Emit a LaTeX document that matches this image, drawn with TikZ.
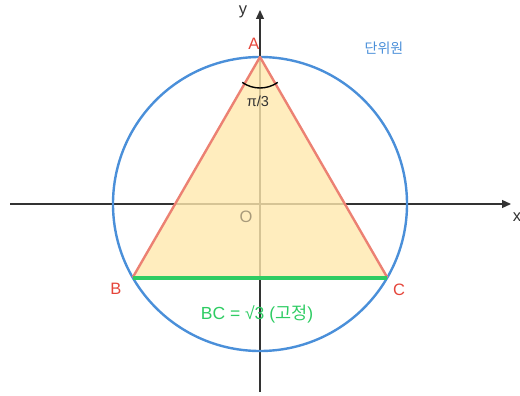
\documentclass[tikz,border=0pt]{standalone}
\usepackage{fontspec}
\setmainfont{Liberation Sans}
\newfontfamily\cjk{Noto Sans CJK KR}
\usetikzlibrary{arrows.meta,calc}
\definecolor{axisc}{HTML}{333333}
\definecolor{circc}{HTML}{4A8FD9}
\definecolor{edgec}{HTML}{EC8173}
\definecolor{labr}{HTML}{E5453A}
\definecolor{fillc}{HTML}{FFE9AE}
\definecolor{grn}{HTML}{2ECC63}
\definecolor{ogray}{HTML}{A89A7A}
\tikzset{
  axis/.style={draw=axisc, line width=1.2pt, -{Triangle[length=9pt,width=8pt]}},
  lbl/.style={inner sep=0pt, font=\fontsize{16.5}{18}\selectfont},
  ptlbl/.style={lbl, text=labr}
}
\begin{document}
\begin{tikzpicture}[x=1pt,y=-1pt]
\useasboundingbox (0,0) rectangle (520,396);
\coordinate (O) at (260,204);
\coordinate (A) at (260,57);
\coordinate (B) at (132.7,277.5);
\coordinate (C) at (387.3,277.5);
\coordinate (xs) at (10,204);
\coordinate (xe) at (511,204);
\coordinate (ys) at (260,392);
\coordinate (ye) at (260,10);
\draw[axis] (xs) -- (xe);
\draw[axis] (ys) -- (ye);
\fill[fillc, opacity=0.8] (A) -- (B) -- (C) -- cycle;
\draw[circc, line width=2.4pt] (O) circle[radius=147];
\draw[edgec, line width=2.4pt, line join=round] (B) -- (A) -- (C);
\draw[grn, line width=4pt] (B) -- (C);
\draw[black, line width=1.4pt] ($(A)+(125:31)$) arc[start angle=125, end angle=55, radius=31];
\node[lbl, text=axisc] (ylab) at (243,12) {y};
\node[lbl, text=axisc] (xlab) at (517,217) {x};
\node[lbl, text=ogray] (olab) at (246,217) {O};
\node[ptlbl] (alab) at (254,44) {A};
\node[ptlbl] (blab) at (116,289) {B};
\node[ptlbl] (clab) at (399,290) {C};
\node[lbl, text=circc, font=\cjk\fontsize{14}{16}\selectfont] (unit) at (384,48) {단위원};
\node[lbl, text=axisc, font=\fontsize{14.5}{16}\selectfont] (ang) at (258,101) {π/3};
\node[lbl, text=grn, font=\fontsize{17.5}{19}\selectfont] (bc) at (257,314) {BC = √3 ({\cjk 고정})};
\end{tikzpicture}
\end{document}
